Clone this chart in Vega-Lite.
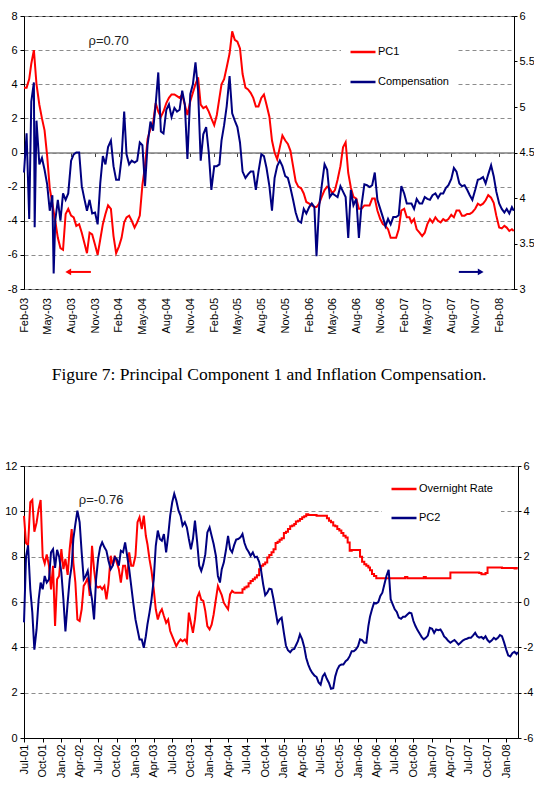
{
  "$schema": "https://vega.github.io/schema/vega-lite/v6.json",
  "background": "white",
  "padding": {"left": 4, "top": 9, "right": 0, "bottom": 0},
  "spacing": 74,
  "resolve": {"scale": {"color": "independent"}, "legend": {"color": "independent"}},
  "config": {
    "font": "Liberation Sans",
    "view": {"stroke": "#1a1a1a", "strokeWidth": 1},
    "axis": {"labelFont": "Liberation Sans", "labelFontSize": 11, "labelColor": "#000", "tickColor": "#000", "domainColor": "#000", "title": null, "labelOverlap": false, "labelFlush": false}
  },
  "datasets": {
    "fig7": [
      {"date":"2003-02-01","PC1":3.8,"comp":4.28},{"date":"2003-02-11","PC1":3.8,"comp":4.71},{"date":"2003-02-21","PC1":4.3,"comp":3.77},
      {"date":"2003-03-01","PC1":5.2,"comp":5.06},{"date":"2003-03-11","PC1":6.0,"comp":5.27},{"date":"2003-03-14","comp":3.68},{"date":"2003-03-21","PC1":4.0,"comp":4.85},
      {"date":"2003-04-01","PC1":2.8,"comp":4.37},{"date":"2003-04-11","PC1":2.0,"comp":4.44},{"date":"2003-04-21","PC1":1.3,"comp":4.31},
      {"date":"2003-05-01","PC1":-0.2,"comp":4.15},{"date":"2003-05-11","PC1":-2.1,"comp":3.86},{"date":"2003-05-21","PC1":-3.0,"comp":4.03},{"date":"2003-05-26","comp":3.17},
      {"date":"2003-06-01","PC1":-4.0,"comp":3.75},{"date":"2003-06-11","PC1":-5.0,"comp":3.98},{"date":"2003-06-21","PC1":-5.6,"comp":3.75},
      {"date":"2003-07-01","PC1":-5.7,"comp":4.05},{"date":"2003-07-11","PC1":-3.6,"comp":3.98},{"date":"2003-07-21","PC1":-3.3,"comp":4.05},
      {"date":"2003-08-01","PC1":-3.7,"comp":4.41},{"date":"2003-08-11","PC1":-3.8,"comp":4.48},{"date":"2003-08-21","PC1":-4.3,"comp":4.50},
      {"date":"2003-09-01","PC1":-4.2,"comp":4.50},{"date":"2003-09-11","PC1":-4.7,"comp":4.13},{"date":"2003-09-21","PC1":-5.3,"comp":3.99},
      {"date":"2003-10-01","PC1":-5.9,"comp":3.86},{"date":"2003-10-11","PC1":-4.7,"comp":3.98},{"date":"2003-10-21","PC1":-4.8,"comp":3.83},
      {"date":"2003-11-01","PC1":-5.4,"comp":3.84},{"date":"2003-11-11","PC1":-6.0,"comp":3.71},{"date":"2003-11-21","PC1":-5.1,"comp":4.16},
      {"date":"2003-12-01","PC1":-4.2,"comp":4.46},{"date":"2003-12-11","PC1":-3.6,"comp":4.37},{"date":"2003-12-21","PC1":-3.1,"comp":4.56},
      {"date":"2004-01-01","PC1":-3.3,"comp":4.63},{"date":"2004-01-11","PC1":-4.9,"comp":4.35},{"date":"2004-01-21","PC1":-5.9,"comp":4.20},
      {"date":"2004-02-01","PC1":-5.5,"comp":4.20},{"date":"2004-02-11","PC1":-5.0,"comp":4.44},{"date":"2004-02-21","PC1":-4.1,"comp":4.95},
      {"date":"2004-03-01","PC1":-3.8,"comp":4.48},{"date":"2004-03-11","PC1":-3.7,"comp":4.37},{"date":"2004-03-21","PC1":-4.0,"comp":4.41},
      {"date":"2004-04-01","PC1":-4.4,"comp":4.39},{"date":"2004-04-11","PC1":-4.1,"comp":4.41},{"date":"2004-04-21","PC1":-3.7,"comp":4.61},
      {"date":"2004-05-01","PC1":-1.9,"comp":4.58},{"date":"2004-05-11","PC1":-0.8,"comp":4.13},{"date":"2004-05-21","PC1":0.8,"comp":4.59},
      {"date":"2004-06-01","PC1":1.4,"comp":4.84},{"date":"2004-06-11","PC1":1.7,"comp":4.74},{"date":"2004-06-21","PC1":2.9,"comp":5.03},
      {"date":"2004-07-01","PC1":2.4,"comp":5.38},{"date":"2004-07-11","PC1":2.1,"comp":4.73},{"date":"2004-07-21","PC1":2.4,"comp":4.71},
      {"date":"2004-08-01","PC1":2.9,"comp":4.97},{"date":"2004-08-11","PC1":3.2,"comp":5.03},{"date":"2004-08-21","PC1":3.4,"comp":4.89},
      {"date":"2004-09-01","PC1":3.4,"comp":4.99},{"date":"2004-09-11","PC1":3.3,"comp":4.95},{"date":"2004-09-21","PC1":3.2,"comp":4.97},
      {"date":"2004-10-01","PC1":3.4,"comp":5.18},{"date":"2004-10-11","PC1":2.8,"comp":5.03},{"date":"2004-10-21","PC1":2.2,"comp":4.43},
      {"date":"2004-11-01","PC1":3.0,"comp":5.14},{"date":"2004-11-11","PC1":3.5,"comp":5.25},{"date":"2004-11-21","PC1":4.0,"comp":5.49},
      {"date":"2004-12-01","PC1":4.4,"comp":5.18},{"date":"2004-12-11","PC1":2.8,"comp":4.41},{"date":"2004-12-21","PC1":2.6,"comp":4.70},
      {"date":"2005-01-01","PC1":2.7,"comp":4.78},{"date":"2005-01-11","PC1":2.4,"comp":4.50},{"date":"2005-01-21","PC1":2.0,"comp":4.09},
      {"date":"2005-02-01","PC1":1.6,"comp":4.35},{"date":"2005-02-11","PC1":2.2,"comp":4.35},{"date":"2005-02-21","PC1":3.2,"comp":4.37},
      {"date":"2005-03-01","PC1":4.0,"comp":4.63},{"date":"2005-03-11","PC1":4.3,"comp":4.80},{"date":"2005-03-21","PC1":5.0,"comp":5.01},
      {"date":"2005-04-01","PC1":5.8,"comp":5.34},{"date":"2005-04-11","PC1":7.1,"comp":4.93},{"date":"2005-04-21","PC1":6.6,"comp":4.85},
      {"date":"2005-05-01","PC1":6.5,"comp":4.78},{"date":"2005-05-11","PC1":6.1,"comp":4.61},{"date":"2005-05-21","PC1":4.6,"comp":4.29},
      {"date":"2005-06-01","PC1":3.8,"comp":4.22},{"date":"2005-06-11","PC1":3.7,"comp":4.26},{"date":"2005-06-21","PC1":3.5,"comp":4.29},
      {"date":"2005-07-01","PC1":3.2,"comp":4.29},{"date":"2005-07-11","PC1":2.7,"comp":4.09},{"date":"2005-07-21","PC1":2.7,"comp":4.29},
      {"date":"2005-08-01","PC1":3.2,"comp":4.48},{"date":"2005-08-11","PC1":3.4,"comp":4.46},{"date":"2005-08-21","PC1":2.8,"comp":4.33},
      {"date":"2005-09-01","PC1":2.1,"comp":4.13},{"date":"2005-09-11","PC1":0.7,"comp":3.86},{"date":"2005-09-21","PC1":0.0,"comp":4.22},
      {"date":"2005-10-01","PC1":-0.4,"comp":4.35},{"date":"2005-10-11","PC1":0.3,"comp":4.41},{"date":"2005-10-21","PC1":1.0,"comp":4.35},
      {"date":"2005-11-01","PC1":0.7,"comp":4.24},{"date":"2005-11-11","PC1":0.5,"comp":4.22},{"date":"2005-11-21","PC1":0.1,"comp":4.11},
      {"date":"2005-12-01","PC1":-0.8,"comp":3.98},{"date":"2005-12-11","PC1":-1.7,"comp":3.84},{"date":"2005-12-21","PC1":-2.0,"comp":3.75},
      {"date":"2006-01-01","PC1":-2.1,"comp":3.73},{"date":"2006-01-11","PC1":-2.4,"comp":3.88},{"date":"2006-01-21","PC1":-2.9,"comp":3.83},
      {"date":"2006-02-01","PC1":-3.0,"comp":3.90},{"date":"2006-02-11","PC1":-3.1,"comp":3.94},{"date":"2006-02-21","PC1":-3.2,"comp":3.90},
      {"date":"2006-03-01","PC1":-3.2,"comp":3.36},{"date":"2006-03-11","PC1":-3.0,"comp":3.90},{"date":"2006-03-21","PC1":-2.6,"comp":4.13},
      {"date":"2006-04-01","PC1":-2.2,"comp":4.37},{"date":"2006-04-11","PC1":-2.0,"comp":4.31},{"date":"2006-04-21","PC1":-2.1,"comp":4.01},
      {"date":"2006-05-01","PC1":-2.4,"comp":4.05},{"date":"2006-05-11","PC1":-2.2,"comp":4.03},{"date":"2006-05-21","PC1":-1.6,"comp":4.01},
      {"date":"2006-06-01","PC1":-0.8,"comp":4.13},{"date":"2006-06-11","PC1":0.3,"comp":4.07},{"date":"2006-06-21","PC1":0.6,"comp":4.01},
      {"date":"2006-07-01","PC1":-1.2,"comp":3.56},{"date":"2006-07-11","PC1":-2.05,"comp":4.09},{"date":"2006-07-21","PC1":-2.6,"comp":3.92},
      {"date":"2006-08-01","PC1":-2.7,"comp":3.99},{"date":"2006-08-11","PC1":-3.3,"comp":3.56},{"date":"2006-08-21","PC1":-3.3,"comp":3.92},
      {"date":"2006-09-01","PC1":-3.1,"comp":4.15},{"date":"2006-09-11","PC1":-3.1,"comp":4.14},{"date":"2006-09-21","PC1":-3.1,"comp":4.12},
      {"date":"2006-10-01","PC1":-2.7,"comp":4.14},{"date":"2006-10-11","PC1":-2.7,"comp":4.28},{"date":"2006-10-21","PC1":-3.4,"comp":3.98},
      {"date":"2006-11-01","PC1":-3.9,"comp":3.88},{"date":"2006-11-11","PC1":-4.2,"comp":3.79},{"date":"2006-11-21","PC1":-4.3,"comp":3.69},
      {"date":"2006-12-01","PC1":-4.5,"comp":3.77},{"date":"2006-12-11","PC1":-5.0,"comp":3.71},{"date":"2006-12-21","PC1":-5.0,"comp":3.79},
      {"date":"2007-01-01","PC1":-5.0,"comp":3.79},{"date":"2007-01-11","PC1":-4.5,"comp":3.81},{"date":"2007-01-21","PC1":-3.4,"comp":4.13},
      {"date":"2007-02-01","PC1":-3.3,"comp":4.05},{"date":"2007-02-11","PC1":-3.8,"comp":3.94},{"date":"2007-02-21","PC1":-3.8,"comp":3.94},
      {"date":"2007-03-01","PC1":-4.1,"comp":3.94},{"date":"2007-03-11","PC1":-3.9,"comp":3.88},{"date":"2007-03-21","PC1":-4.5,"comp":3.99},
      {"date":"2007-04-01","PC1":-4.7,"comp":3.94},{"date":"2007-04-11","PC1":-4.9,"comp":3.94},{"date":"2007-04-21","PC1":-4.7,"comp":4.01},
      {"date":"2007-05-01","PC1":-4.2,"comp":3.99},{"date":"2007-05-11","PC1":-3.9,"comp":3.98},{"date":"2007-05-21","PC1":-4.1,"comp":4.03},
      {"date":"2007-06-01","PC1":-3.8,"comp":4.05},{"date":"2007-06-11","PC1":-4.0,"comp":4.00},{"date":"2007-06-21","PC1":-4.1,"comp":4.05},
      {"date":"2007-07-01","PC1":-3.9,"comp":4.05},{"date":"2007-07-11","PC1":-4.0,"comp":4.11},{"date":"2007-07-21","PC1":-3.9,"comp":4.14},
      {"date":"2007-08-01","PC1":-3.65,"comp":4.21},{"date":"2007-08-11","PC1":-3.8,"comp":4.33},{"date":"2007-08-21","PC1":-3.4,"comp":4.29},
      {"date":"2007-09-01","PC1":-3.4,"comp":4.16},{"date":"2007-09-11","PC1":-3.7,"comp":4.13},{"date":"2007-09-21","PC1":-3.7,"comp":4.14},
      {"date":"2007-10-01","PC1":-3.6,"comp":4.09},{"date":"2007-10-11","PC1":-3.6,"comp":4.03},{"date":"2007-10-21","PC1":-3.5,"comp":3.98},
      {"date":"2007-11-01","PC1":-3.3,"comp":4.09},{"date":"2007-11-11","PC1":-3.0,"comp":4.20},{"date":"2007-11-21","PC1":-3.1,"comp":4.21},
      {"date":"2007-12-01","PC1":-3.0,"comp":4.23},{"date":"2007-12-11","PC1":-2.8,"comp":4.16},{"date":"2007-12-21","PC1":-2.5,"comp":4.26},
      {"date":"2008-01-01","PC1":-2.65,"comp":4.36},{"date":"2008-01-11","PC1":-2.95,"comp":4.24},{"date":"2008-01-21","PC1":-3.7,"comp":4.07},
      {"date":"2008-02-01","PC1":-4.4,"comp":3.94},{"date":"2008-02-11","PC1":-4.45,"comp":3.88},{"date":"2008-02-21","PC1":-4.3,"comp":3.84},
      {"date":"2008-03-01","PC1":-4.4,"comp":3.88},{"date":"2008-03-11","PC1":-4.6,"comp":3.83},{"date":"2008-03-21","PC1":-4.5,"comp":3.90},{"date":"2008-03-28","PC1":-4.6,"comp":3.86}
    ],
    "fig8": [
      {"date":"2001-07-01","rate":9.8,"PC2":-0.9},{"date":"2001-07-11","rate":8.6,"PC2":2.0},{"date":"2001-07-21","rate":8.5,"PC2":2.5},
      {"date":"2001-08-01","rate":10.4,"PC2":0.56},{"date":"2001-08-11","rate":10.5,"PC2":-0.47},{"date":"2001-08-21","rate":9.1,"PC2":-2.1},
      {"date":"2001-09-01","rate":9.5,"PC2":-1.2},{"date":"2001-09-11","rate":10.1,"PC2":0.1},{"date":"2001-09-21","rate":10.5,"PC2":0.86},
      {"date":"2001-10-01","rate":8.0,"PC2":0.56},{"date":"2001-10-11","rate":7.7,"PC2":1.15},{"date":"2001-10-21","rate":8.1,"PC2":0.86},
      {"date":"2001-11-01","rate":7.6,"PC2":1.0},{"date":"2001-11-11","rate":6.56,"PC2":2.19},{"date":"2001-11-21","rate":7.6,"PC2":2.33},
      {"date":"2001-12-01","rate":4.94,"PC2":1.5},{"date":"2001-12-11","rate":7.0,"PC2":2.3},{"date":"2001-12-21","rate":7.15,"PC2":2.0},
      {"date":"2002-01-01","rate":8.33,"PC2":1.3},{"date":"2002-01-11","rate":7.45,"PC2":0.12},{"date":"2002-01-21","rate":7.9,"PC2":-1.3},
      {"date":"2002-02-01","rate":7.2,"PC2":-0.03},{"date":"2002-02-11","rate":8.33,"PC2":1.0},{"date":"2002-02-21","rate":9.22,"PC2":1.6},
      {"date":"2002-03-01","rate":7.74,"PC2":2.78},{"date":"2002-03-11","rate":6.86,"PC2":3.44},{"date":"2002-03-21","rate":5.23,"PC2":4.03},
      {"date":"2002-04-01","rate":5.16,"PC2":3.52},{"date":"2002-04-11","rate":5.68,"PC2":2.19},{"date":"2002-04-21","rate":6.71,"PC2":1.0},
      {"date":"2002-05-01","rate":6.86,"PC2":1.15},{"date":"2002-05-11","rate":7.08,"PC2":1.37},{"date":"2002-05-21","rate":6.27,"PC2":0.71},
      {"date":"2002-06-01","rate":8.48,"PC2":0.12},{"date":"2002-06-11","rate":7.45,"PC2":-0.77},{"date":"2002-06-21","rate":6.71,"PC2":1.0},
      {"date":"2002-07-01","rate":6.64,"PC2":1.89},{"date":"2002-07-11","rate":6.68,"PC2":2.41},{"date":"2002-07-21","rate":6.56,"PC2":2.63},
      {"date":"2002-08-01","rate":6.71,"PC2":2.41},{"date":"2002-08-11","rate":6.12,"PC2":2.26},{"date":"2002-08-21","rate":6.78,"PC2":1.82},
      {"date":"2002-09-01","rate":8.04,"PC2":1.45},{"date":"2002-09-11","rate":7.6,"PC2":1.6},{"date":"2002-09-21","rate":8.04,"PC2":1.97},
      {"date":"2002-10-01","rate":7.74,"PC2":1.89},{"date":"2002-10-11","rate":7.45,"PC2":1.6},{"date":"2002-10-21","rate":6.86,"PC2":2.26},
      {"date":"2002-11-01","rate":7.6,"PC2":2.19},{"date":"2002-11-11","rate":7.6,"PC2":2.63},{"date":"2002-11-21","rate":7.0,"PC2":2.04},
      {"date":"2002-12-01","rate":8.19,"PC2":1.45},{"date":"2002-12-11","rate":7.6,"PC2":0.71},{"date":"2002-12-21","rate":7.6,"PC2":-0.03},
      {"date":"2003-01-01","rate":8.04,"PC2":-0.77},{"date":"2003-01-11","rate":9.52,"PC2":-1.21},{"date":"2003-01-21","rate":9.74,"PC2":-1.65},
      {"date":"2003-02-01","rate":9.22,"PC2":-1.65},{"date":"2003-02-11","rate":9.81,"PC2":-2.02},{"date":"2003-02-21","rate":8.92,"PC2":-1.51},
      {"date":"2003-03-01","rate":8.55,"PC2":-0.99},{"date":"2003-03-11","rate":7.89,"PC2":-0.47},{"date":"2003-03-21","rate":7.37,"PC2":0.12},
      {"date":"2003-04-01","rate":6.56,"PC2":1.0},{"date":"2003-04-11","rate":5.68,"PC2":2.48},{"date":"2003-04-21","rate":5.23,"PC2":3.15},
      {"date":"2003-05-01","rate":5.53,"PC2":2.78},{"date":"2003-05-11","rate":5.68,"PC2":2.7},{"date":"2003-05-21","rate":5.38,"PC2":3.0},
      {"date":"2003-06-01","rate":5.08,"PC2":2.19},{"date":"2003-06-11","rate":5.23,"PC2":2.92},{"date":"2003-06-21","rate":4.72,"PC2":3.81},
      {"date":"2003-07-01","rate":4.49,"PC2":4.4},{"date":"2003-07-11","rate":4.27,"PC2":4.77},{"date":"2003-07-21","rate":4.05,"PC2":4.48},
      {"date":"2003-08-01","rate":4.23,"PC2":4.03},{"date":"2003-08-11","rate":4.35,"PC2":3.81},{"date":"2003-08-21","rate":4.27,"PC2":3.37},
      {"date":"2003-09-01","rate":4.35,"PC2":3.52},{"date":"2003-09-11","rate":4.2,"PC2":3.29},{"date":"2003-09-21","rate":5.53,"PC2":2.78},
      {"date":"2003-10-01","rate":5.08,"PC2":2.33},{"date":"2003-10-11","rate":4.64,"PC2":2.78},{"date":"2003-10-21","rate":5.23,"PC2":3.59},
      {"date":"2003-11-01","rate":6.2,"PC2":2.63},{"date":"2003-11-11","rate":6.41,"PC2":1.6},{"date":"2003-11-21","rate":6.1,"PC2":1.37},
      {"date":"2003-12-01","rate":6.05,"PC2":1.67},{"date":"2003-12-11","rate":5.6,"PC2":2.11},{"date":"2003-12-21","rate":4.94,"PC2":3.07},
      {"date":"2004-01-01","rate":4.79,"PC2":3.29},{"date":"2004-01-11","rate":5.0,"PC2":2.92},{"date":"2004-01-21","rate":5.45,"PC2":2.56},
      {"date":"2004-02-01","rate":6.12,"PC2":2.04},{"date":"2004-02-11","rate":6.71,"PC2":1.15},{"date":"2004-02-21","rate":6.49,"PC2":0.86},
      {"date":"2004-03-01","rate":6.3,"PC2":1.45},{"date":"2004-03-11","rate":5.97,"PC2":1.74},{"date":"2004-03-21","rate":5.82,"PC2":2.26},
      {"date":"2004-04-01","rate":5.68,"PC2":2.92},{"date":"2004-04-11","rate":6.34,"PC2":2.33},{"date":"2004-04-21","rate":6.49,"PC2":2.19},
      {"date":"2004-05-01","rate":6.41,"PC2":2.51},{"date":"2004-05-11","rate":6.41,"PC2":2.75},{"date":"2004-05-21","rate":6.41,"PC2":2.78},
      {"date":"2004-06-01","rate":6.41,"PC2":2.85},{"date":"2004-06-11","rate":6.56,"PC2":3.0},{"date":"2004-06-21","rate":6.64,"PC2":2.6},
      {"date":"2004-07-01","rate":6.68,"PC2":2.36},{"date":"2004-07-11","rate":6.83,"PC2":2.22},{"date":"2004-07-21","rate":6.93,"PC2":2.04},
      {"date":"2004-08-01","rate":7.0,"PC2":2.19},{"date":"2004-08-11","rate":7.08,"PC2":1.97},{"date":"2004-08-21","rate":7.18,"PC2":2.0},
      {"date":"2004-09-01","rate":7.45,"PC2":1.77},{"date":"2004-09-11","rate":7.6,"PC2":1.37},{"date":"2004-09-21","rate":7.67,"PC2":0.78},
      {"date":"2004-10-01","rate":7.74,"PC2":0.3},{"date":"2004-10-11","rate":7.96,"PC2":0.41},{"date":"2004-10-21","rate":8.07,"PC2":0.59},
      {"date":"2004-11-01","rate":8.19,"PC2":0.56},{"date":"2004-11-11","rate":8.33,"PC2":0.12},{"date":"2004-11-21","rate":8.6,"PC2":-0.4},
      {"date":"2004-12-01","rate":8.66,"PC2":-0.92},{"date":"2004-12-11","rate":8.75,"PC2":-0.77},{"date":"2004-12-21","rate":8.81,"PC2":-0.69},
      {"date":"2005-01-01","rate":9.04,"PC2":-1.36},{"date":"2005-01-11","rate":9.1,"PC2":-1.92},{"date":"2005-01-21","rate":9.22,"PC2":-2.13},
      {"date":"2005-02-01","rate":9.34,"PC2":-2.22},{"date":"2005-02-11","rate":9.37,"PC2":-2.1},{"date":"2005-02-21","rate":9.44,"PC2":-2.07},
      {"date":"2005-03-01","rate":9.55,"PC2":-1.92},{"date":"2005-03-11","rate":9.59,"PC2":-1.73},{"date":"2005-03-21","rate":9.66,"PC2":-1.43},
      {"date":"2005-04-01","rate":9.74,"PC2":-1.65},{"date":"2005-04-11","rate":9.78,"PC2":-1.98},{"date":"2005-04-21","rate":9.87,"PC2":-2.47},
      {"date":"2005-05-01","rate":9.84,"PC2":-2.76},{"date":"2005-05-11","rate":9.84,"PC2":-2.98},{"date":"2005-05-21","rate":9.84,"PC2":-3.13},
      {"date":"2005-06-01","rate":9.84,"PC2":-3.25},{"date":"2005-06-11","rate":9.81,"PC2":-3.31},{"date":"2005-06-21","rate":9.81,"PC2":-3.55},
      {"date":"2005-07-01","rate":9.81,"PC2":-3.65},{"date":"2005-07-11","rate":9.81,"PC2":-3.28},{"date":"2005-07-21","rate":9.8,"PC2":-3.16},
      {"date":"2005-08-01","rate":9.69,"PC2":-3.4},{"date":"2005-08-11","rate":9.59,"PC2":-3.57},{"date":"2005-08-21","rate":9.52,"PC2":-3.83},
      {"date":"2005-09-01","rate":9.37,"PC2":-3.8},{"date":"2005-09-11","rate":9.34,"PC2":-3.28},{"date":"2005-09-21","rate":9.22,"PC2":-2.98},
      {"date":"2005-10-01","rate":9.15,"PC2":-2.81},{"date":"2005-10-11","rate":9.04,"PC2":-2.76},{"date":"2005-10-21","rate":8.92,"PC2":-2.76},
      {"date":"2005-11-01","rate":8.85,"PC2":-2.61},{"date":"2005-11-11","rate":8.63,"PC2":-2.54},{"date":"2005-11-21","rate":8.26,"PC2":-2.39},
      {"date":"2005-12-01","rate":8.29,"PC2":-2.17},{"date":"2005-12-11","rate":8.29,"PC2":-2.17},{"date":"2005-12-21","rate":8.29,"PC2":-2.1},
      {"date":"2006-01-01","rate":8.29,"PC2":-1.95},{"date":"2006-01-11","rate":8.0,"PC2":-1.65},{"date":"2006-01-21","rate":7.78,"PC2":-1.68},
      {"date":"2006-02-01","rate":7.67,"PC2":-1.8},{"date":"2006-02-11","rate":7.6,"PC2":-1.8},{"date":"2006-02-21","rate":7.52,"PC2":-1.06},
      {"date":"2006-03-01","rate":7.4,"PC2":-0.65},{"date":"2006-03-11","rate":7.23,"PC2":-0.32},{"date":"2006-03-21","rate":7.15,"PC2":-0.03},
      {"date":"2006-04-01","rate":7.05,"PC2":-0.06},{"date":"2006-04-11","rate":7.05,"PC2":0.0},{"date":"2006-04-21","rate":7.05,"PC2":0.27},
      {"date":"2006-05-01","rate":7.05,"PC2":0.41},{"date":"2006-05-11","rate":7.05,"PC2":0.78},{"date":"2006-05-21","rate":7.05,"PC2":1.15},
      {"date":"2006-06-01","rate":7.05,"PC2":1.42},{"date":"2006-06-11","rate":7.05,"PC2":0.12},{"date":"2006-06-21","rate":7.05,"PC2":-0.1},
      {"date":"2006-07-01","rate":7.05,"PC2":-0.32},{"date":"2006-07-11","rate":7.05,"PC2":-0.44},{"date":"2006-07-21","rate":7.05,"PC2":-0.69},
      {"date":"2006-08-01","rate":7.05,"PC2":-0.74},{"date":"2006-08-11","rate":7.05,"PC2":-0.65},{"date":"2006-08-21","rate":7.1,"PC2":-0.65},
      {"date":"2006-09-01","rate":7.05,"PC2":-0.55},{"date":"2006-09-11","rate":7.05,"PC2":-0.47},{"date":"2006-09-21","rate":7.05,"PC2":-0.5},
      {"date":"2006-10-01","rate":7.05,"PC2":-0.84},{"date":"2006-10-11","rate":7.05,"PC2":-1.06},{"date":"2006-10-21","rate":7.05,"PC2":-1.24},
      {"date":"2006-11-01","rate":7.05,"PC2":-1.4},{"date":"2006-11-11","rate":7.05,"PC2":-1.55},{"date":"2006-11-21","rate":7.1,"PC2":-1.65},
      {"date":"2006-12-01","rate":7.05,"PC2":-1.58},{"date":"2006-12-11","rate":7.05,"PC2":-1.48},{"date":"2006-12-21","rate":7.05,"PC2":-1.14},
      {"date":"2007-01-01","rate":7.05,"PC2":-1.18},{"date":"2007-01-11","rate":7.05,"PC2":-1.36},{"date":"2007-01-21","rate":7.05,"PC2":-1.21},
      {"date":"2007-02-01","rate":7.05,"PC2":-1.24},{"date":"2007-02-11","rate":7.05,"PC2":-1.21},{"date":"2007-02-21","rate":7.05,"PC2":-1.36},
      {"date":"2007-03-01","rate":7.05,"PC2":-1.52},{"date":"2007-03-11","rate":7.05,"PC2":-1.6},{"date":"2007-03-21","rate":7.05,"PC2":-1.71},
      {"date":"2007-04-01","rate":7.3,"PC2":-1.8},{"date":"2007-04-11","rate":7.3,"PC2":-1.73},{"date":"2007-04-21","rate":7.3,"PC2":-1.68},
      {"date":"2007-05-01","rate":7.3,"PC2":-1.77},{"date":"2007-05-11","rate":7.3,"PC2":-1.88},{"date":"2007-05-21","rate":7.3,"PC2":-1.8},
      {"date":"2007-06-01","rate":7.3,"PC2":-1.7},{"date":"2007-06-11","rate":7.3,"PC2":-1.65},{"date":"2007-06-21","rate":7.3,"PC2":-1.62},
      {"date":"2007-07-01","rate":7.3,"PC2":-1.58},{"date":"2007-07-11","rate":7.3,"PC2":-1.58},{"date":"2007-07-21","rate":7.3,"PC2":-1.48},
      {"date":"2007-08-01","rate":7.3,"PC2":-1.36},{"date":"2007-08-11","rate":7.3,"PC2":-1.51},{"date":"2007-08-21","rate":7.28,"PC2":-1.57},
      {"date":"2007-09-01","rate":7.22,"PC2":-1.54},{"date":"2007-09-11","rate":7.22,"PC2":-1.62},{"date":"2007-09-21","rate":7.28,"PC2":-1.51},
      {"date":"2007-10-01","rate":7.52,"PC2":-1.68},{"date":"2007-10-11","rate":7.52,"PC2":-1.77},{"date":"2007-10-21","rate":7.52,"PC2":-1.7},
      {"date":"2007-11-01","rate":7.52,"PC2":-1.58},{"date":"2007-11-11","rate":7.52,"PC2":-1.65},{"date":"2007-11-21","rate":7.52,"PC2":-1.58},
      {"date":"2007-12-01","rate":7.52,"PC2":-1.46},{"date":"2007-12-11","rate":7.5,"PC2":-1.51},{"date":"2007-12-21","rate":7.5,"PC2":-1.77},
      {"date":"2008-01-01","rate":7.5,"PC2":-2.1},{"date":"2008-01-11","rate":7.5,"PC2":-2.36},{"date":"2008-01-21","rate":7.5,"PC2":-2.4},
      {"date":"2008-02-01","rate":7.5,"PC2":-2.25},{"date":"2008-02-11","rate":7.48,"PC2":-2.2},{"date":"2008-02-21","rate":7.5,"PC2":-2.3},{"date":"2008-02-27","rate":7.5,"PC2":-2.2}
    ]
  },
  "vconcat": [
    {
      "width": 490,
      "height": 273,
      "title": {"text": "Figure 7: Principal Component 1 and Inflation Compensation.", "orient": "bottom", "anchor": "middle", "font": "Liberation Serif", "fontSize": 17.5, "fontWeight": "normal", "color": "#000", "offset": 32},
      "layer": [
        {
          "layer": [
            {
              "data": {"name": "fig7"},
              "mark": {"type": "line", "strokeWidth": 2, "invalid": "filter"},
              "encoding": {
                "x": {
                  "field": "date", "type": "temporal",
                  "scale": {"type": "utc", "domain": [{"year": 2003, "month": 2, "date": 1, "utc": true}, {"year": 2008, "month": 3, "date": 29, "utc": true}]},
                  "axis": {
                    "values": [
                      {"year": 2003, "month": 2, "date": 1, "utc": true}, {"year": 2003, "month": 5, "date": 1, "utc": true}, {"year": 2003, "month": 8, "date": 1, "utc": true}, {"year": 2003, "month": 11, "date": 1, "utc": true},
                      {"year": 2004, "month": 2, "date": 1, "utc": true}, {"year": 2004, "month": 5, "date": 1, "utc": true}, {"year": 2004, "month": 8, "date": 1, "utc": true}, {"year": 2004, "month": 11, "date": 1, "utc": true},
                      {"year": 2005, "month": 2, "date": 1, "utc": true}, {"year": 2005, "month": 5, "date": 1, "utc": true}, {"year": 2005, "month": 8, "date": 1, "utc": true}, {"year": 2005, "month": 11, "date": 1, "utc": true},
                      {"year": 2006, "month": 2, "date": 1, "utc": true}, {"year": 2006, "month": 5, "date": 1, "utc": true}, {"year": 2006, "month": 8, "date": 1, "utc": true}, {"year": 2006, "month": 11, "date": 1, "utc": true},
                      {"year": 2007, "month": 2, "date": 1, "utc": true}, {"year": 2007, "month": 5, "date": 1, "utc": true}, {"year": 2007, "month": 8, "date": 1, "utc": true}, {"year": 2007, "month": 11, "date": 1, "utc": true},
                      {"year": 2008, "month": 2, "date": 1, "utc": true}
                    ],
                    "tickCount": 100,
                    "labelExpr": "utcFormat(datum.value, '%b-%y')",
                    "labelAngle": -90, "labelAlign": "right", "labelBaseline": "middle", "labelOverlap": false, "labelFlush": false, "labelBound": false,
                    "offset": -136.5, "tickSize": 4, "labelPadding": 141,
                    "domainColor": "#808080", "domainWidth": 1.5, "tickColor": "#404040", "grid": false
                  }
                },
                "y": {
                  "field": "PC1", "type": "quantitative",
                  "scale": {"domain": [-8, 8], "nice": false, "zero": false},
                  "axis": {"values": [-8, -6, -4, -2, 0, 2, 4, 6, 8], "tickCount": 50, "labelExpr": "'' + datum.value", "grid": true, "gridDash": [4, 3], "gridColor": "#8c8c8c", "tickSize": 4, "labelPadding": 3}
                },
                "color": {
                  "datum": "PC1",
                  "scale": {"domain": ["PC1", "Compensation"], "range": ["#ff0000", "#000080"]},
                  "legend": {"orient": "none", "legendX": 317, "legendY": 14, "title": null, "symbolType": "stroke", "symbolSize": 625, "symbolStrokeWidth": 2.5, "labelFont": "Liberation Sans", "labelFontSize": 11, "labelColor": "#000", "labelOffset": 1, "rowPadding": 11, "fillColor": "white", "padding": 8}
                }
              }
            },
            {
              "data": {"values": [{}]},
              "mark": {"type": "text", "text": "ρ=0.70", "align": "left", "baseline": "middle", "font": "Liberation Sans", "fontSize": 13, "color": "#222"},
              "encoding": {"x": {"datum": {"year": 2003, "month": 10, "date": 7, "utc": true}, "type": "temporal"}, "y": {"datum": 6.56}}
            },
            {
              "data": {"values": [{}]},
              "mark": {"type": "rule", "color": "#ff0000", "strokeWidth": 2},
              "encoding": {"x": {"datum": {"year": 2003, "month": 7, "date": 20, "utc": true}, "type": "temporal"}, "x2": {"datum": {"year": 2003, "month": 10, "date": 16, "utc": true}}, "y": {"datum": -7}}
            },
            {
              "data": {"values": [{}]},
              "mark": {"type": "point", "shape": "triangle-left", "filled": true, "color": "#ff0000", "size": 45, "opacity": 1},
              "encoding": {"x": {"datum": {"year": 2003, "month": 7, "date": 21, "utc": true}, "type": "temporal"}, "y": {"datum": -7}}
            },
            {
              "data": {"values": [{}]},
              "mark": {"type": "rule", "color": "#000080", "strokeWidth": 2},
              "encoding": {"x": {"datum": {"year": 2007, "month": 8, "date": 30, "utc": true}, "type": "temporal"}, "x2": {"datum": {"year": 2007, "month": 11, "date": 25, "utc": true}}, "y": {"datum": -7}}
            },
            {
              "data": {"values": [{}]},
              "mark": {"type": "point", "shape": "triangle-right", "filled": true, "color": "#000080", "size": 45, "opacity": 1},
              "encoding": {"x": {"datum": {"year": 2007, "month": 11, "date": 22, "utc": true}, "type": "temporal"}, "y": {"datum": -7}}
            }
          ]
        },
        {
          "data": {"name": "fig7"},
          "mark": {"type": "line", "strokeWidth": 2, "invalid": "filter"},
          "encoding": {
            "x": {"field": "date", "type": "temporal"},
            "y": {
              "field": "comp", "type": "quantitative",
              "scale": {"domain": [3, 6], "nice": false, "zero": false},
              "axis": {"orient": "right", "values": [3, 3.5, 4, 4.5, 5, 5.5, 6], "tickCount": 50, "labelExpr": "'' + datum.value", "grid": false, "tickSize": 3, "labelPadding": 2}
            },
            "color": {"datum": "Compensation"}
          }
        }
      ],
      "resolve": {"scale": {"y": "independent"}}
    },
    {
      "width": 494,
      "height": 272,
      "layer": [
        {
          "layer": [
            {
              "data": {"name": "fig8"},
              "transform": [{"filter": {"field": "date", "lte": {"year": 2004, "month": 5, "date": 1, "utc": true}}}],
              "mark": {"type": "line", "strokeWidth": 2},
              "encoding": {
                "x": {
                  "field": "date", "type": "temporal",
                  "scale": {"type": "utc", "domain": [{"year": 2001, "month": 7, "date": 1, "utc": true}, {"year": 2008, "month": 2, "date": 28, "utc": true}]},
                  "axis": {
                    "values": [
                      {"year": 2001, "month": 7, "date": 1, "utc": true}, {"year": 2001, "month": 10, "date": 1, "utc": true},
                      {"year": 2002, "month": 1, "date": 1, "utc": true}, {"year": 2002, "month": 4, "date": 1, "utc": true}, {"year": 2002, "month": 7, "date": 1, "utc": true}, {"year": 2002, "month": 10, "date": 1, "utc": true},
                      {"year": 2003, "month": 1, "date": 1, "utc": true}, {"year": 2003, "month": 4, "date": 1, "utc": true}, {"year": 2003, "month": 7, "date": 1, "utc": true}, {"year": 2003, "month": 10, "date": 1, "utc": true},
                      {"year": 2004, "month": 1, "date": 1, "utc": true}, {"year": 2004, "month": 4, "date": 1, "utc": true}, {"year": 2004, "month": 7, "date": 1, "utc": true}, {"year": 2004, "month": 10, "date": 1, "utc": true},
                      {"year": 2005, "month": 1, "date": 1, "utc": true}, {"year": 2005, "month": 4, "date": 1, "utc": true}, {"year": 2005, "month": 7, "date": 1, "utc": true}, {"year": 2005, "month": 10, "date": 1, "utc": true},
                      {"year": 2006, "month": 1, "date": 1, "utc": true}, {"year": 2006, "month": 4, "date": 1, "utc": true}, {"year": 2006, "month": 7, "date": 1, "utc": true}, {"year": 2006, "month": 10, "date": 1, "utc": true},
                      {"year": 2007, "month": 1, "date": 1, "utc": true}, {"year": 2007, "month": 4, "date": 1, "utc": true}, {"year": 2007, "month": 7, "date": 1, "utc": true}, {"year": 2007, "month": 10, "date": 1, "utc": true},
                      {"year": 2008, "month": 1, "date": 1, "utc": true}
                    ],
                    "tickCount": 100,
                    "labelExpr": "utcFormat(datum.value, '%b-%y')",
                    "labelAngle": -90, "labelAlign": "right", "labelBaseline": "middle", "labelOverlap": false, "labelFlush": false, "labelBound": false,
                    "tickSize": 4, "labelPadding": 2, "grid": false
                  }
                },
                "y": {
                  "field": "rate", "type": "quantitative",
                  "scale": {"domain": [0, 12], "nice": false},
                  "axis": {"values": [0, 2, 4, 6, 8, 10, 12], "tickCount": 50, "labelExpr": "'' + datum.value", "grid": true, "gridDash": [4, 3], "gridColor": "#8c8c8c", "tickSize": 4, "labelPadding": 3}
                },
                "color": {
                  "datum": "Overnight Rate",
                  "scale": {"domain": ["Overnight Rate", "PC2"], "range": ["#ff0000", "#000080"]},
                  "legend": {"orient": "none", "legendX": 358, "legendY": 1, "title": null, "symbolType": "stroke", "symbolSize": 625, "symbolStrokeWidth": 2.5, "labelFont": "Liberation Sans", "labelFontSize": 11, "labelColor": "#000", "labelOffset": 1, "rowPadding": 10, "fillColor": "white", "padding": 8}
                }
              }
            },
            {
              "data": {"name": "fig8"},
              "transform": [{"filter": {"field": "date", "gte": {"year": 2004, "month": 5, "date": 1, "utc": true}}}],
              "mark": {"type": "line", "strokeWidth": 2, "interpolate": "step-after"},
              "encoding": {
                "x": {"field": "date", "type": "temporal"},
                "y": {"field": "rate", "type": "quantitative"},
                "color": {"datum": "Overnight Rate"}
              }
            },
            {
              "data": {"values": [{}]},
              "mark": {"type": "text", "text": "ρ=-0.76", "align": "left", "baseline": "middle", "font": "Liberation Sans", "fontSize": 13, "color": "#222"},
              "encoding": {"x": {"datum": {"year": 2002, "month": 3, "date": 28, "utc": true}, "type": "temporal"}, "y": {"datum": 10.52}}
            }
          ]
        },
        {
          "data": {"name": "fig8"},
          "mark": {"type": "line", "strokeWidth": 2},
          "encoding": {
            "x": {"field": "date", "type": "temporal"},
            "y": {
              "field": "PC2", "type": "quantitative",
              "scale": {"domain": [-6, 6], "nice": false, "zero": false},
              "axis": {"orient": "right", "values": [-6, -4, -2, 0, 2, 4, 6], "tickCount": 50, "labelExpr": "'' + datum.value", "grid": false, "tickSize": 3, "labelPadding": 2}
            },
            "color": {"datum": "PC2"}
          }
        }
      ],
      "resolve": {"scale": {"y": "independent"}}
    }
  ]
}
